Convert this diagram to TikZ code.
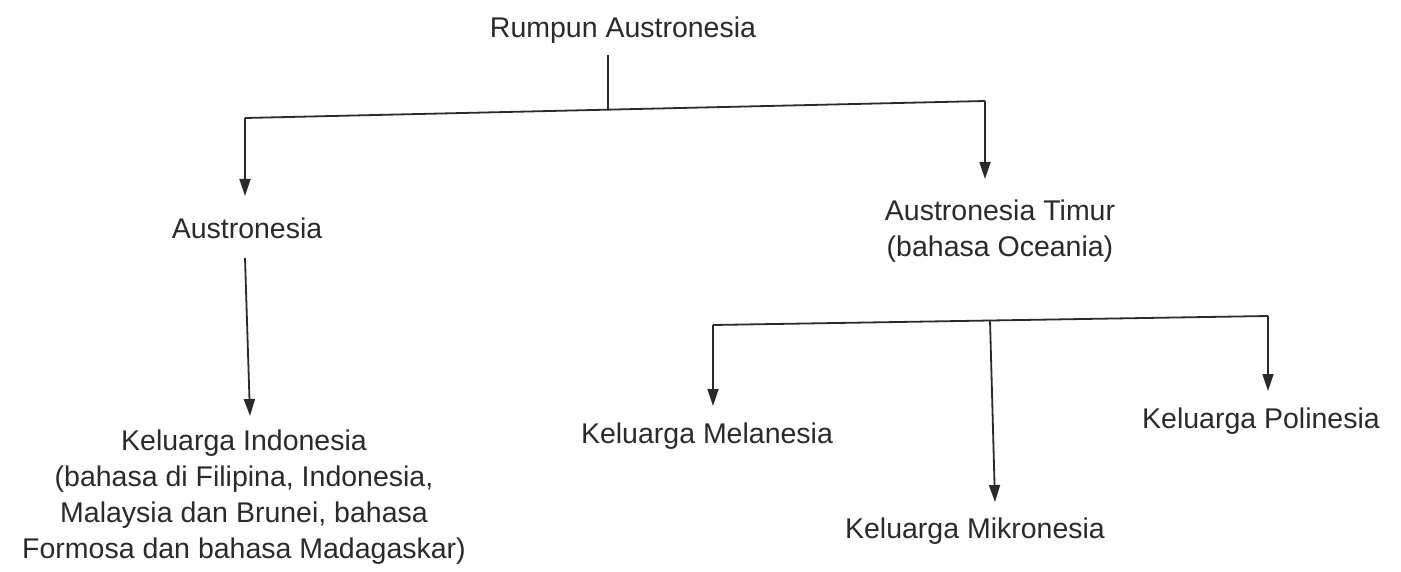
\documentclass[tikz,border=0pt]{standalone}
\usepackage{fontspec}
\setmainfont{Liberation Sans}
\usetikzlibrary{arrows.meta}
\definecolor{ink}{HTML}{2A2A2A}
\begin{document}
\begin{tikzpicture}[x=1pt,y=-1pt,
  lbl/.style={inner sep=0pt,text=ink,font=\fontsize{28.5}{36}\selectfont,align=center},
  conn/.style={draw=ink,line width=1.8pt},
  arr/.style={conn,-{Triangle[length=17pt,width=11pt]}}]
\useasboundingbox (0,0) rectangle (1401,572);
% nodes
\node[lbl] (root) at (623,30) {Rumpun Austronesia};
\node[lbl] (aus) at (247,228) {Austronesia};
\node[lbl] (timur) at (1000,231) {Austronesia Timur\\(bahasa Oceania)};
\node[lbl] (indo) at (244,497) {Keluarga Indonesia\\(bahasa di Filipina, Indonesia,\\Malaysia dan Brunei, bahasa\\Formosa dan bahasa Madagaskar)};
\node[lbl] (mel) at (707,436) {Keluarga Melanesia};
\node[lbl] (pol) at (1261,421) {Keluarga Polinesia};
\node[lbl] (mik) at (975,531) {Keluarga Mikronesia};
% junction coordinates
\coordinate (r0) at (608,55);
\coordinate (rj) at (608,109);
\coordinate (rl) at (245,118);
\coordinate (rr) at (985,101);
\coordinate (rlt) at (245,196);
\coordinate (rrt) at (985,179);
\coordinate (a0) at (245,258);
\coordinate (at) at (250,416);
\coordinate (tl) at (713,325);
\coordinate (tm) at (990,320);
\coordinate (tr) at (1268,316);
\coordinate (tlt) at (713,406);
\coordinate (tmt) at (995,502);
\coordinate (trt) at (1268,391);
% connectors
\draw[conn] (r0) -- (rj);
\draw[conn] (rl) -- (rr);
\draw[arr] (rl) -- (rlt);
\draw[arr] (rr) -- (rrt);
\draw[arr] (a0) -- (at);
\draw[conn] (tl) -- (tr);
\draw[arr] (tl) -- (tlt);
\draw[arr] (tm) -- (tmt);
\draw[arr] (tr) -- (trt);
\end{tikzpicture}
\end{document}
